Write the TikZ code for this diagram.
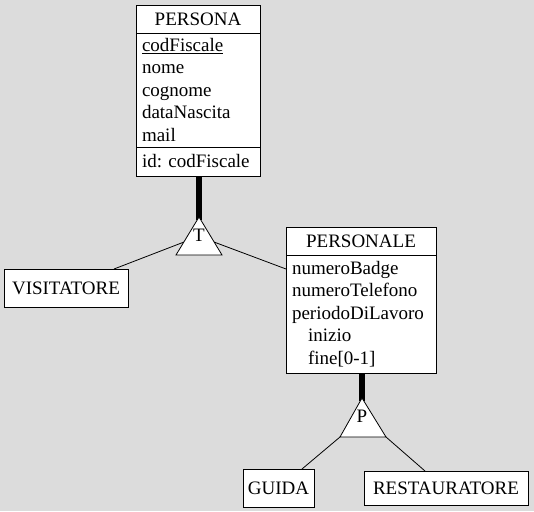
\documentclass[tikz,border=0pt]{standalone}
\usepackage{fontspec}
\setmainfont{Liberation Serif}
\usetikzlibrary{positioning,calc}
\definecolor{canvas}{RGB}{220,220,220}

\begin{document}
\begin{tikzpicture}
            [x=1pt, y=-1pt, font=\fontsize{19}{22.5}\selectfont,
            % every node/.style={draw=black, fill=white, rounded corners},
            entity/.style={draw=black, fill=white, line width=0.8pt, inner sep=0pt, outer sep=0pt, minimum height=28pt},
            attrs/.style={draw=black, fill=white, line width=0.8pt, align=left, inner xsep=6pt, inner ysep=0pt, outer sep=0pt},
            isa/.style={draw=black, fill=white, line width=0.8pt},
            link/.style={draw=black, line width=0.8pt},
            total/.style={draw=black, line width=6pt}]
            \fill [canvas] (0,0) rectangle (534,511);
            \useasboundingbox (0,0) rectangle (534,511);

            \node [entity, minimum width=124pt] (persona) at (198,19) {PERSONA};
            \node [attrs, text width=112pt, minimum height=114pt, below=0pt of persona] (personaAttr)
                {\underline{codFiscale}\\nome\\cognome\\dataNascita\\mail};
            \node [attrs, text width=112pt, minimum height=29pt, below=0pt of personaAttr] (personaId) {id:\ codFiscale};

            \node [entity, minimum width=150pt] (personale) at (361,241) {PERSONALE};
            \node [attrs, text width=138pt, minimum height=118pt, below=0pt of personale] (personaleAttr)
                {numeroBadge\\numeroTelefono\\periodoDiLavoro\\\hspace*{16pt}inizio\\\hspace*{16pt}fine[0-1]};

            \node [entity, minimum width=124pt, minimum height=38pt] (visitatore) at (66,288) {VISITATORE};
            \node [entity, minimum width=71pt, minimum height=38pt] (guida) at (278.5,488) {GUIDA};
            \node [entity, minimum width=164pt, minimum height=34pt] (restauratore) at (446,488) {RESTAURATORE};

            % generalizzazione totale
            \coordinate (tApex) at (199,217);
            \coordinate (tLeft) at (176,255);
            \coordinate (tRight) at (222,255);
            \draw [total] (personaId.south -| tApex) -- ([yshift=-3pt]tApex);
            \draw [isa] (tApex) -- (tLeft) -- (tRight) -- cycle;
            \node (tLabel) at (199,235) {T};
            \draw [link] ([xshift=-14pt]visitatore.north east) -- ($(tApex)!0.66!(tLeft)$);
            \draw [link] ($(tApex)!0.66!(tRight)$) -- ([yshift=-14pt]personaleAttr.north west);

            % generalizzazione parziale
            \coordinate (pApex) at (362,398);
            \coordinate (pLeft) at (340,437);
            \coordinate (pRight) at (386,437);
            \draw [total] (personaleAttr.south -| pApex) -- ([yshift=-3pt]pApex);
            \draw [isa] (pApex) -- (pLeft) -- (pRight) -- cycle;
            \node (pLabel) at (362,416) {P};
            \draw [link] (pLeft) -- ([xshift=-12pt]guida.north east);
            \draw [link] (pRight) -- ([xshift=61pt]restauratore.north west);
\end{tikzpicture}
\end{document}
